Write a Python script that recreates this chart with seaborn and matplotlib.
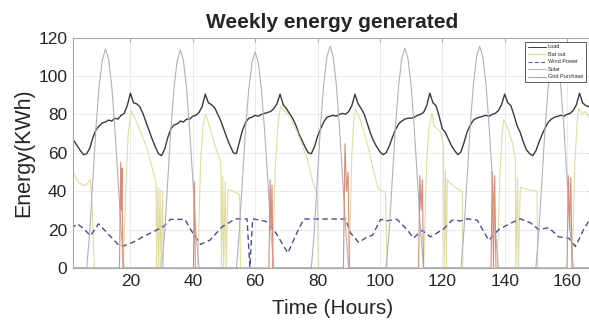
import numpy as np
import matplotlib
matplotlib.use("Agg")
import matplotlib.pyplot as plt
import seaborn as sns

# hourly data, x = 1..168
hours = np.arange(1, 169)

load = [
    68, 66, 63.5, 61, 59, 59.5, 62.5, 68, 72, 74, 75.5, 76, 77, 76.5, 78, 77.5, 79.5, 80.5, 84.5, 91, 86, 85.5, 84, 80.5,
    76, 71.5, 67, 63, 59.5, 58.5, 62, 68, 72.5, 74.5, 75, 76.5, 76, 77.5, 77.5, 79, 79.5, 81, 84, 90.5, 86, 85, 83.5, 80,
    76.5, 72, 67.5, 63.5, 60, 59.5, 66, 72, 76, 78, 78.5, 79.5, 79, 80, 80.5, 81, 81.5, 83, 85.5, 90.5, 85, 83, 80.5, 78,
    74.5, 70, 66.5, 63, 60, 59.5, 63, 68.5, 72.5, 76, 78.5, 79, 79.5, 79, 80, 80.5, 80, 81.5, 84.5, 90.5, 85.5, 83, 80, 75,
    70, 66, 63, 60.5, 59, 60, 63.5, 68, 72, 75, 76.5, 77.5, 78, 78, 78.5, 79.5, 80, 81, 84.5, 91, 86, 84.5, 79, 72.5,
    70.5, 67, 63.5, 61, 59, 60.5, 65.5, 71, 74.5, 77, 78, 78.5, 79, 79.5, 79, 80, 80.5, 82, 85, 90.5, 86, 84.5, 79.5, 74,
    70.5, 65.5, 61.5, 59.5, 58.5, 61, 65.5, 69.5, 73, 76, 77.5, 78.5, 79, 79.5, 79, 80, 80.5, 82, 85, 91, 86, 84.5, 84, 83,
]

solar = [
    0, 0, 0, 0, 0, 0, 20, 47, 74, 95, 108, 114, 109, 95, 73, 47, 20, 0, 0, 0, 0, 0, 0, 0,
    0, 0, 0, 0, 0, 0, 19, 46, 73, 94, 108, 113.5, 108, 94, 72, 46, 19, 0, 0, 0, 0, 0, 0, 0,
    0, 0, 0, 0, 0, 0, 21, 48, 74, 94, 107, 112.5, 107, 93, 72, 47, 20, 0, 0, 0, 0, 0, 0, 0,
    0, 0, 0, 0, 0, 0, 20, 48, 75, 96, 110, 115.5, 110, 96, 74, 48, 21, 0, 0, 0, 0, 0, 0, 0,
    0, 0, 0, 0, 0, 0, 20, 47, 74, 95, 109, 114.5, 109, 95, 73, 47, 20, 0, 0, 0, 0, 0, 0, 0,
    0, 0, 0, 0, 0, 0, 21, 48, 75, 96, 110, 115.5, 110, 96, 74, 48, 20, 0, 0, 0, 0, 0, 0, 0,
    0, 0, 0, 0, 0, 0, 20, 47, 74, 95, 108, 113.5, 108, 94, 73, 47, 20, 0, 0, 0, 0, 0, 0, 0,
]

wind_x = [1, 3, 5, 7.2, 9.8, 13, 16.3, 18, 21, 24.3, 27.5, 30.7, 32.8, 37.5, 39.3, 42.5, 45.5, 49.4,
          53.7, 57.4, 58.3, 59.2, 62.8, 64.3, 67, 70.5, 73.4, 75.6, 89, 90.5, 93.2, 95.9, 97.6, 100.2,
          102.3, 105.5, 108.7, 110.8, 113.5, 116.2, 120.5, 123.1, 125.8, 128, 131.2, 134.9, 138.1,
          141.5, 145, 148.3, 150.9, 154.1, 157.3, 160.5, 162.7, 165.3, 168]
wind_y = [20.5, 23, 20.5, 16.8, 23, 17.5, 11.8, 11.6, 13.5, 16.5, 19, 21.7, 25.3, 25.3, 20, 12.3, 14.5, 21.4,
          25.6, 25.6, 0.5, 25.6, 24.5, 23.7, 17.3, 7.8, 18.4, 25.5, 25.5, 18.4, 13.3, 16.2, 17, 25.3,
          24.6, 25.3, 20, 15.6, 19.6, 16.2, 20.4, 24.9, 24.5, 25.6, 24.9, 14.4, 20,
          23, 25.6, 23.5, 20, 21, 16.2, 15.6, 11.2, 20, 27]

bat_x = [1, 2.5, 3.4, 5, 6.2, 7.2, 7.8, 8.4,
         17.7, 18.5, 19.3, 20.2, 21.5, 23, 25.4, 27, 28.2, 28.4, 28.8, 29.1, 29.5, 29.8, 30.3, 30.6,
         41.6, 42.5, 43.3, 44, 44.6, 46, 47.5, 49, 49.2, 49.6, 49.9, 50.4, 50.7, 51.3, 53, 55, 55.3,
         65.5, 66.5, 67.3, 68.1, 70.8, 73.5, 76.7, 78.8, 79.9, 80.3,
         90.2, 91, 91.7, 92.2, 93.5, 95, 96.4, 98, 99.6, 101.8, 102.3,
         114, 115, 115.8, 116.7, 117.3, 119.4, 120.4, 120.6, 121, 121.3, 121.6, 122, 124, 126.4, 126.6,
         137.6, 138.5, 139.2, 139.7, 141, 142.5, 143.4, 143.6, 144.1, 144.4, 145, 147, 150.4, 150.6,
         161.6, 162.5, 163.2, 163.7, 165, 165.9, 167.5, 168]
bat_y = [52, 47, 44.7, 42.8, 44, 46.3, 30, 0,
         0, 40, 70, 82, 78, 72, 62, 52, 44.5, 0, 42, 0, 41, 0, 40, 0,
         0, 55, 74, 80, 78, 70, 62, 55, 0, 48, 0, 45, 0, 41, 40, 38, 0,
         0, 55, 75, 84, 79.6, 70.9, 56.8, 42.8, 39.3, 0,
         0, 60, 78, 83, 78, 70, 62, 50, 41, 39.5, 0,
         0, 55, 74, 80.5, 74, 71, 64, 0, 51, 0, 46, 45, 42, 40, 0,
         0, 50, 70, 77, 73, 65, 57, 0, 47, 0, 42, 41, 40, 0,
         0, 55, 75, 83, 80, 81.5, 77, 75]

grid_x = [1, 16.5, 16.9, 17.1, 17.3, 17.6, 40.2, 40.5, 40.8, 64.4, 64.8, 65.1, 65.4, 65.7,
          88.3, 88.8, 89.3, 89.8, 90.2, 112.4, 112.8, 113.2, 113.6, 114, 135.6, 136.0, 136.4,
          136.8, 137.2, 160.0, 160.4, 160.8, 161.2, 161.6, 168]
grid_y = [0, 0, 55, 30, 52, 0, 0, 45, 0, 0, 46, 20, 43, 0,
          0, 64.7, 40, 50, 0, 0, 48, 30, 46, 0, 0, 50, 0,
          48, 0, 0, 48, 20, 47, 0, 0]

sns.set_style("whitegrid")
plt.rcParams['font.family'] = ['Liberation Sans', 'DejaVu Sans']

fig = plt.figure(figsize=(5.89, 3.27), dpi=100)
ax = fig.add_axes([72.7 / 589, 59 / 327, 519.3 / 589, 230.5 / 327])

sns.lineplot(x=hours, y=load, ax=ax, color='#3a3a3a', lw=1.0, label='Load', estimator=None, sort=False)
sns.lineplot(x=bat_x, y=bat_y, ax=ax, color='#e0dc9e', lw=0.8, label='Bat out', estimator=None, sort=False)
sns.lineplot(x=wind_x, y=wind_y, ax=ax, color='#4a4aa6', lw=1.0, linestyle=(0, (4, 2.5)),
             label='Wind Power', estimator=None, sort=False)
sns.lineplot(x=hours, y=solar, ax=ax, color='#b2aec2', lw=0.8, label='Solar', estimator=None, sort=False)
sns.lineplot(x=grid_x, y=grid_y, ax=ax, color='#d98c78', lw=0.8, label='Grid Purchase', estimator=None, sort=False)

ax.set_xlim(1.5, 168)
ax.set_ylim(0, 120)
ax.set_xticks([20, 40, 60, 80, 100, 120, 140, 160])
ax.set_yticks([0, 20, 40, 60, 80, 100, 120])
ax.grid(True, color='#e8e8e8', lw=0.6)
for s in ax.spines.values():
    s.set_color('#a8a8a8')
    s.set_linewidth(0.8)
ax.tick_params(direction='in', length=3, color='#a8a8a8', labelsize=12.5, labelcolor='#262626',
               top=True, right=True, pad=4)

ax.set_title('Weekly energy generated', fontsize=15, fontweight='bold', pad=6.8)
ax.set_xlabel('Time (Hours)', fontsize=15)
ax.set_ylabel('Energy(KWh)', fontsize=15.5)
ax.xaxis.set_label_coords(0.5, -0.135)
ax.yaxis.set_label_coords(-0.075, 0.5)

leg = ax.legend(loc='upper right', bbox_to_anchor=(0.9884, 0.9818), borderaxespad=0,
                fontsize=4, frameon=True, fancybox=False, handlelength=3.2,
                labelspacing=0.45, borderpad=0.5, handletextpad=0.4)
for line in leg.get_lines():
    line.set_linewidth(0.7)
leg.get_frame().set_edgecolor('#444444')
leg.get_frame().set_linewidth(0.6)
leg.get_frame().set_alpha(1)

fig.savefig('out.png', dpi=100)
